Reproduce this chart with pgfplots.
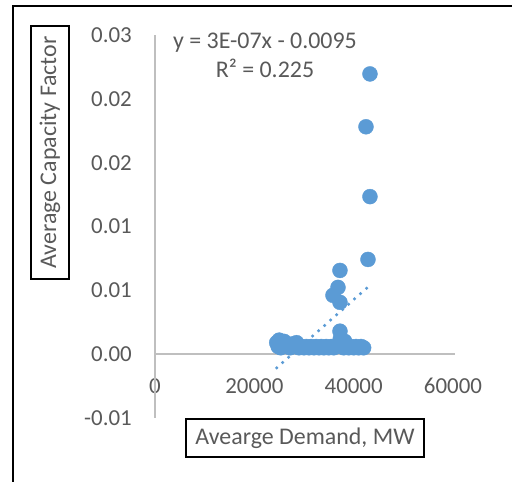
\documentclass[border=0pt]{standalone}
\usepackage{pgfplots}
\pgfplotsset{compat=1.18}
\usepackage{fontspec}
\setmainfont{Carlito}
\definecolor{mblue}{HTML}{5B9BD5}
\definecolor{txtgray}{HTML}{595959}
\definecolor{axgray}{HTML}{BFBFBF}
\begin{document}
\begin{tikzpicture}[x=1bp,y=1bp]
\path[use as bounding box] (0,0) rectangle (512,482);
\draw[black, line width=1.8bp] (13,0) -- (13,476) -- (512,476);
\begin{axis}[
  at={(155bp,64bp)}, anchor=south west,
  scale only axis, width=298bp, height=383bp,
  xmin=0, xmax=60000, ymin=-0.005, ymax=0.025,
  scaled ticks=false,
  axis line style={draw=none}, tick style={draw=none},
  clip=false,
  xtick={0,20000,40000,60000}, xticklabels={0,20000,40000,60000},
  ytick={-0.005,0,0.005,0.01,0.015,0.02,0.025},
  yticklabels={-0.01,0.00,0.01,0.01,0.02,0.02,0.03},
  xticklabel style={anchor=center, yshift=32bp, text=txtgray, font=\fontsize{23}{27}\selectfont},
  yticklabel style={anchor=east, inner sep=0pt, xshift=-23bp, text=txtgray, font=\fontsize{23}{27}\selectfont},
  /pgf/number format/assume math mode=true,
]
\draw[axgray, line width=1.6bp] (axis cs:0,-0.005) -- (axis cs:0,0.025);
\draw[axgray, line width=1.6bp] (axis cs:0,0) -- (axis cs:60400,0);
\addplot[only marks, mark=*, mark size=7.5bp, color=mblue, mark options={draw=mblue, fill=mblue}] coordinates {
(24500,0.0009) (24800,0.0006) (25000,0.0011) (25300,0.0005) (25600,0.0008)
(26000,0.0010) (26300,0.0006) (26800,0.0007) (27200,0.0005) (27600,0.0008)
(28000,0.0006) (28500,0.0009) (29000,0.0005) (29500,0.0006) (30000,0.0005)
(30500,0.0006) (31000,0.0005) (31500,0.0006) (32000,0.0005) (32500,0.0006)
(33000,0.0005) (33500,0.0006) (34000,0.0005) (34500,0.0006) (35000,0.0005)
(35500,0.0006) (36000,0.0005) (36500,0.0006) (37000,0.0008) (37300,0.0012)
(37600,0.0006) (38000,0.0005) (38200,0.0010) (38500,0.0006) (39000,0.0005)
(39500,0.0006) (40000,0.0005) (40500,0.0006) (41000,0.0005) (41500,0.0006)
(42000,0.0005)
(37240,0.0018) (37240,0.00406) (35830,0.00461) (36840,0.00523) (37240,0.00656)
(42880,0.00742) (43280,0.01234) (42475,0.01781) (43280,0.02195)
};
\addplot[color=mblue, line width=3.5bp, line cap=round, dash pattern=on 0bp off 8bp] coordinates {
(24500,-0.00107) (43300,0.00540)
};
\end{axis}
\node[text=txtgray, align=center, font=\fontsize{24}{29}\selectfont] at (265,427) {y = 3E-07x - 0.0095\\R² = 0.225};
\node[draw=black, line width=1.6bp, rotate=90, minimum width=253bp, minimum height=38bp, inner sep=0pt, text=txtgray, font=\fontsize{24}{29}\selectfont] at (50,329.5) {Average Capacity Factor};
\node[draw=black, line width=1.6bp, minimum width=238bp, minimum height=38bp, inner sep=0pt, text=txtgray, font=\fontsize{24}{29}\selectfont] at (305,44) {Avearge Demand, MW};
\end{tikzpicture}
\end{document}
